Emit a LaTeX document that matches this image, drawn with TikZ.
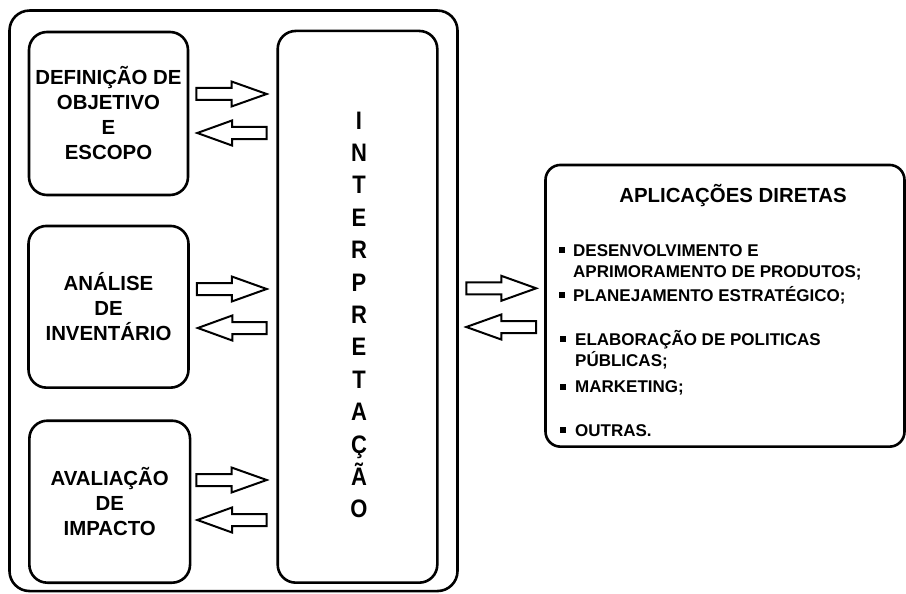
\documentclass[tikz,border=0pt]{standalone}
\usepackage{fontspec}
\setmainfont{Liberation Sans}
\usetikzlibrary{positioning,calc}
\tikzset{
    outerbox/.style={draw,line width=2.6pt,rounded corners=20pt,inner sep=0pt},
    stage/.style={draw,line width=2.6pt,rounded corners=18pt,inner sep=0pt,align=center,
        font=\bfseries\fontsize{20.4}{25}\selectfont},
    hollow/.style={draw,line width=2pt,fill=white},
    listitem/.style={inner sep=0pt,anchor=base west,align=left,
        font=\bfseries\fontsize{17}{21.7}\selectfont},
    sqbullet/.style={fill=black,inner sep=0pt,minimum size=6pt},
}
% hollow block arrow from tail #1 to tip #2
\newcommand{\blockarrow}[2]{%
    \draw[hollow] ($(#1)+(0,-6)$) -- ($(#1)!0.5!(#2)+(0,-6)$)
        -- ($(#1)!0.5!(#2)+(0,-12.5)$) -- (#2)
        -- ($(#1)!0.5!(#2)+(0,12.5)$) -- ($(#1)!0.5!(#2)+(0,6)$)
        -- ($(#1)+(0,6)$) -- cycle;}

\begin{document}
\begin{tikzpicture}[x=1pt,y=-1pt]
    \useasboundingbox (0,0) rectangle (906,594);

    \node[outerbox,minimum width=448pt,minimum height=580.5pt] (frame) at (233.5,300.8) {};

    \node[stage,minimum width=159pt,minimum height=163pt] (def) at (108.5,113.5)
        {DEFINIÇÃO DE\\OBJETIVO\\E\\ESCOPO};
    \node[stage,minimum width=160pt,minimum height=161.7pt] (inv) at (108.5,306.8)
        {ANÁLISE\\DE\\INVENTÁRIO};
    \node[stage,minimum width=160.7pt,minimum height=162pt] (imp) at (109.7,501.7)
        {AVALIAÇÃO\\DE\\IMPACTO};

    \node[stage,minimum width=159.6pt,minimum height=551.7pt] (interp) at (357.5,306.8) {};
    \node[inner sep=0pt,font=\bfseries\fontsize{22}{28.17}\selectfont]
        (interptext) at ($(interp.center)+(1.5,10.2)$)
        {\scalebox{1}[1.15]{\begin{tabular}{@{}c@{}}
            I\\N\\T\\E\\R\\P\\R\\E\\T\\A\\Ç\\Ã\\O
        \end{tabular}}};

    \node[draw,line width=2.6pt,rounded corners=15pt,inner sep=0pt,
        minimum width=359pt,minimum height=281.7pt] (app) at (725,305.8) {};
    \node[font=\bfseries\fontsize{20.4}{25}\selectfont,inner sep=0pt] (apptitle)
        at (733,196) {APLICAÇÕES DIRETAS};

    % multi-line items sit on the baseline of their last line
    \node[listitem] (it1) at (573,277.7) {DESENVOLVIMENTO E\\APRIMORAMENTO DE PRODUTOS;};
    \node[listitem] (it2) at (573,301) {PLANEJAMENTO ESTRATÉGICO;};
    \node[listitem] (it3) at (575,366.7) {ELABORAÇÃO DE POLITICAS\\PÚBLICAS;};
    \node[listitem] (it4) at (575,392.7) {MARKETING;};
    \node[listitem] (it5) at (575,436) {OUTRAS.};
    \node[sqbullet] (b1) at ($(it1.base west)+(-11,-27.7)$) {};
    \node[sqbullet] (b2) at ($(it2.base west)+(-11,-6)$) {};
    \node[sqbullet] (b3) at ($(it3.base west)+(-12.5,-27.7)$) {};
    \node[sqbullet] (b4) at ($(it4.base west)+(-12.5,-6)$) {};
    \node[sqbullet] (b5) at ($(it5.base west)+(-12.5,-6)$) {};

    % arrows between the stages and the interpretation
    \coordinate (def-out) at ($(def.east)+(7,-19.5)$);
    \coordinate (def-in) at ($(def.east)+(8,19.5)$);
    \coordinate (inv-out) at ($(inv.east)+(7,-17.8)$);
    \coordinate (inv-in) at ($(inv.east)+(8,21.2)$);
    \coordinate (imp-out) at ($(imp.east)+(5,-21.7)$);
    \coordinate (imp-in) at ($(imp.east)+(6,18.3)$);
    \coordinate (int-def-in) at ($(interp.west |- def-out)+(-9.7,0)$);
    \coordinate (int-def-out) at ($(interp.west |- def-in)+(-9.7,0)$);
    \coordinate (int-inv-in) at ($(interp.west |- inv-out)+(-9.7,0)$);
    \coordinate (int-inv-out) at ($(interp.west |- inv-in)+(-9.7,0)$);
    \coordinate (int-imp-in) at ($(interp.west |- imp-out)+(-9.7,0)$);
    \coordinate (int-imp-out) at ($(interp.west |- imp-in)+(-9.7,0)$);
    \blockarrow{def-out}{int-def-in}
    \blockarrow{int-def-out}{def-in}
    \blockarrow{inv-out}{int-inv-in}
    \blockarrow{int-inv-out}{inv-in}
    \blockarrow{imp-out}{int-imp-in}
    \blockarrow{int-imp-out}{imp-in}

    % arrows between the frame and the applications
    \coordinate (fr-out) at ($(frame.east |- app.center)+(7.5,-17.5)$);
    \coordinate (fr-in) at ($(frame.east |- app.center)+(7.5,21.2)$);
    \coordinate (app-in) at ($(app.west |- fr-out)+(-8,0)$);
    \coordinate (app-out) at ($(app.west |- fr-in)+(-8,0)$);
    \blockarrow{fr-out}{app-in}
    \blockarrow{app-out}{fr-in}
\end{tikzpicture}
\end{document}
